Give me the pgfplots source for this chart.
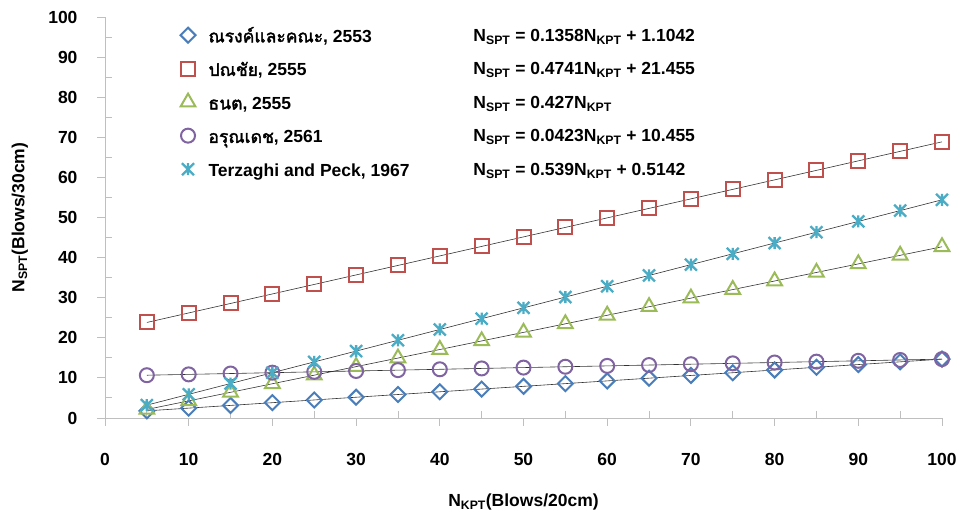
\documentclass[border=0pt]{standalone}
\usepackage{fontspec}
\setmainfont{Liberation Sans}
\newfontfamily\thaifont[Script=Thai, AutoFakeBold=2]{Loma}
\usepackage{pgfplots}
\usepackage{pgfplotstable}
\pgfplotsset{compat=1.18}
\definecolor{cA}{HTML}{4A7EBB}
\definecolor{cB}{HTML}{C0504D}
\definecolor{cC}{HTML}{9BBB59}
\definecolor{cD}{HTML}{8064A2}
\definecolor{cE}{HTML}{4BACC6}
\definecolor{axgray}{HTML}{BFBFBF}
\pgfdeclareplotmark{xstar}{%
  \pgfpathmoveto{\pgfqpoint{-\pgfplotmarksize}{-\pgfplotmarksize}}%
  \pgfpathlineto{\pgfqpoint{\pgfplotmarksize}{\pgfplotmarksize}}%
  \pgfpathmoveto{\pgfqpoint{-\pgfplotmarksize}{\pgfplotmarksize}}%
  \pgfpathlineto{\pgfqpoint{\pgfplotmarksize}{-\pgfplotmarksize}}%
  \pgfpathmoveto{\pgfqpoint{0pt}{-\pgfplotmarksize}}%
  \pgfpathlineto{\pgfqpoint{0pt}{\pgfplotmarksize}}%
  \pgfusepathqstroke}
\newcommand\ls{\rule[-5pt]{0pt}{21pt}}
\newcommand\bigf{\fontsize{17.5}{20}\selectfont\bfseries}
\pgfplotstableread{
x s1 s2 s3 s4 s5
5 1.7832 23.8255 2.135 10.6665 3.2092
10 2.4622 26.196 4.27 10.878 5.9042
15 3.1412 28.5665 6.405 11.0895 8.5992
20 3.8202 30.937 8.54 11.301 11.2942
25 4.4992 33.3075 10.675 11.5125 13.9892
30 5.1782 35.678 12.81 11.724 16.6842
35 5.8572 38.0485 14.945 11.9355 19.3792
40 6.5362 40.419 17.08 12.147 22.0742
45 7.2152 42.7895 19.215 12.3585 24.7692
50 7.8942 45.16 21.35 12.57 27.4642
55 8.5732 47.5305 23.485 12.7815 30.1592
60 9.2522 49.901 25.62 12.993 32.8542
65 9.9312 52.2715 27.755 13.2045 35.5492
70 10.6102 54.642 29.89 13.416 38.2442
75 11.2892 57.0125 32.025 13.6275 40.9392
80 11.9682 59.383 34.16 13.839 43.6342
85 12.6472 61.7535 36.295 14.0505 46.3292
90 13.3262 64.124 38.43 14.262 49.0242
95 14.0052 66.4945 40.565 14.4735 51.7192
100 14.6842 68.865 42.7 14.685 54.4142
}\data
\begin{document}
\begin{tikzpicture}
\begin{axis}[
  scale only axis, width=837pt, height=401pt,
  xmin=0, xmax=100, ymin=0, ymax=100,
  axis x line*=bottom, axis y line*=left,
  axis line style={draw=axgray, line width=0.9pt, -},
  xtick={0,10,...,100}, ytick={0,10,...,100},
  minor tick num=1,
  tick align=outside,
  major tick length=8pt, minor tick length=-7pt,
  tick style={draw=axgray, line width=0.9pt},
  /pgf/number format/assume math mode=true,
  tick label style={font=\bigf},
  yticklabel style={xshift=-16pt},
  xticklabel style={yshift=-24pt},
  label style={font=\bigf},
  xlabel={N\textsubscript{KPT}(Blows/20cm)},
  ylabel={N\textsubscript{SPT}(Blows/30cm)},
  xlabel style={at={(axis description cs:0.5,-0.21)}, anchor=center},
  ylabel style={at={(axis description cs:-0.1016,0.5)}, anchor=center},
  clip=false,
  legend cell align=left,
  legend style={at={(axis cs:9.0,98.2)}, anchor=north west, draw=none, fill=none,
    inner sep=0pt, row sep=12pt, font=\bigf,
    /tikz/every odd column/.append style={column sep=11pt}},
]
\coordinate (O) at (rel axis cs:0,0);
\addplot[forget plot, black!80, line width=0.6pt] table[x=x,y=s1] {\data};
\addplot[forget plot, black!80, line width=0.6pt] table[x=x,y=s2] {\data};
\addplot[forget plot, black!80, line width=0.6pt] table[x=x,y=s3] {\data};
\addplot[forget plot, black!80, line width=0.6pt] table[x=x,y=s4] {\data};
\addplot[forget plot, black!80, line width=0.6pt] table[x=x,y=s5] {\data};
\addplot[only marks, mark=square, mark size=5.3pt, mark options={draw=cA, line width=2pt, rotate=45}] table[x=x,y=s1] {\data};
\addlegendentry{\ls{\thaifont ณรงค์และคณะ}, 2553}
\addplot[only marks, mark=square, mark size=7pt, mark options={draw=cB, line width=2pt}] table[x=x,y=s2] {\data};
\addlegendentry{\ls{\thaifont ปณชัย}, 2555}
\addplot[only marks, mark=triangle, mark size=8.5pt, mark options={draw=cC, line width=2pt}] table[x=x,y=s3] {\data};
\addlegendentry{\ls{\thaifont ธนต}, 2555}
\addplot[only marks, mark=o, mark size=7pt, mark options={draw=cD, line width=2pt}] table[x=x,y=s4] {\data};
\addlegendentry{\ls{\thaifont อรุณเดช}, 2561}
\addplot[only marks, mark=xstar, mark size=6pt, mark options={draw=cE, line width=2.3pt}] table[x=x,y=s5] {\data};
\addlegendentry{\ls Terzaghi and Peck, 1967}
\node[anchor=west, font=\bigf] at (axis cs:43.6,95.0) {N\textsubscript{SPT} = 0.1358N\textsubscript{KPT} + 1.1042};
\node[anchor=west, font=\bigf] at (axis cs:43.6,86.8) {N\textsubscript{SPT} = 0.4741N\textsubscript{KPT} + 21.455};
\node[anchor=west, font=\bigf] at (axis cs:43.6,78.3) {N\textsubscript{SPT} = 0.427N\textsubscript{KPT}};
\node[anchor=west, font=\bigf] at (axis cs:43.6,70.07) {N\textsubscript{SPT} = 0.0423N\textsubscript{KPT} + 10.455};
\node[anchor=west, font=\bigf] at (axis cs:43.6,61.6) {N\textsubscript{SPT} = 0.539N\textsubscript{KPT} + 0.5142};
\end{axis}
\path (O) ++(-105pt,-98pt) rectangle ++(967pt,516pt);
\end{tikzpicture}
\end{document}
